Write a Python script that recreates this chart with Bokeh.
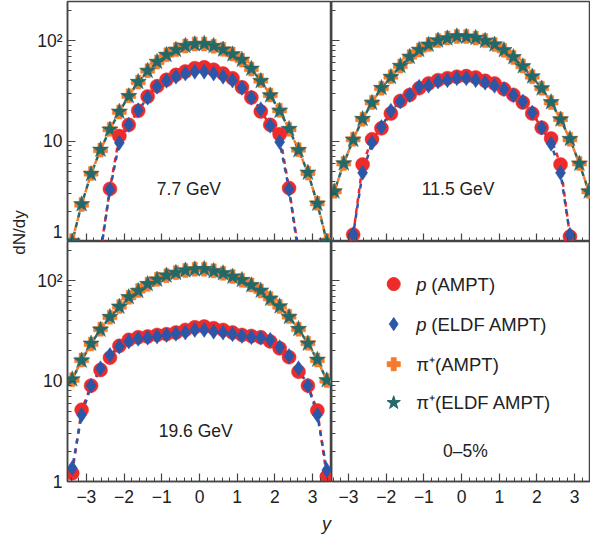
import math
from bokeh.plotting import figure
from bokeh.layouts import gridplot, row, column
from bokeh.models import Range1d, FixedTicker, SingleIntervalTicker, CustomJSTickFormatter, Label
from bokeh.embed import file_html
from bokeh.resources import INLINE

nan = float("nan")

rapidity = [-3.375, -3.125, -2.875, -2.625, -2.375, -2.125, -1.875, -1.625, -1.375, -1.125,
            -0.875, -0.625, -0.375, -0.125, 0.125, 0.375, 0.625, 0.875, 1.125, 1.375,
            1.625, 1.875, 2.125, 2.375, 2.625, 2.875, 3.125, 3.375]

# 7.7 GeV
p_ampt_77 = [nan, nan, nan, 0.8, 3.34, 11.2, 14.5, 20.0, 27.8, 35.2, 40.7, 45.6, 49.3, 53.2,
             54.2, 51.3, 47.0, 42.2, 34.3, 27.1, 19.7, 14.5, 11.7, 3.4, 0.8, nan, nan, nan]
p_eldf_77 = [nan, nan, nan, 0.75, 3.3, 9.6, 14.5, 20.3, 27.0, 34.7, 39.8, 43.7, 47.0, 49.0,
             49.0, 47.0, 43.7, 40.0, 33.8, 27.0, 20.7, 14.2, 9.8, 3.3, 0.75, nan, nan, nan]
pi_ampt_77 = [1.02, 2.33, 4.75, 8.13, 13.1, 19.5, 28.2, 38.6, 50.1, 61.2, 72.4, 81.3, 88.4, 92.6,
              92.6, 88.0, 82.0, 73.5, 64.0, 52.0, 40.0, 28.7, 20.2, 13.1, 8.2, 4.8, 2.4, 1.02]
pi_eldf_77 = [1.0, 2.35, 4.7, 8.2, 13.0, 19.6, 28.0, 38.8, 50.0, 61.5, 72.0, 81.0, 88.8, 92.0,
              93.0, 88.5, 81.5, 73.0, 64.5, 52.5, 39.6, 28.5, 20.0, 13.2, 8.1, 4.85, 2.38, 1.0]

# 11.5 GeV
p_ampt_115 = [nan, 0.5, 1.17, 5.84, 10.4, 13.4, 18.8, 25.1, 28.8, 33.6, 37.4, 40.4, 42.3, 43.7,
              44.3, 43.0, 39.8, 37.4, 32.9, 28.8, 24.2, 18.8, 13.6, 10.6, 5.84, 1.12, 0.5, nan]
p_eldf_115 = [nan, 0.5, 1.18, 4.83, 9.6, 13.8, 20.0, 24.7, 28.8, 34.7, 35.5, 39.2, 40.4, 42.3,
              42.3, 40.4, 38.1, 35.5, 32.9, 28.6, 24.7, 19.2, 13.6, 9.4, 4.83, 1.17, 0.5, nan]
pi_ampt_115 = [3.16, 5.98, 10.4, 16.5, 24.2, 33.6, 43.7, 55.8, 69.2, 80.7, 91.2, 100.0, 106.0, 110.0,
               110.0, 106.0, 100.0, 91.2, 80.0, 68.0, 55.8, 43.7, 33.6, 24.2, 16.5, 10.4, 5.98, 3.16]
pi_eldf_115 = [3.15, 6.0, 10.3, 16.6, 24.0, 33.8, 43.5, 56.0, 69.0, 81.0, 91.0, 100.5, 105.5, 110.5,
               109.5, 106.5, 99.5, 91.5, 80.5, 68.5, 55.5, 44.0, 33.4, 24.4, 16.4, 10.5, 5.95, 3.15]

# 19.6 GeV
p_ampt_196 = [1.21, 5.17, 9.0, 12.9, 17.1, 22.4, 25.7, 27.3, 27.8, 28.8, 29.3, 30.4, 32.3, 34.3,
              34.9, 33.6, 32.3, 30.4, 28.8, 28.1, 27.3, 24.8, 21.2, 17.3, 12.4, 9.0, 5.1, 1.12]
p_eldf_196 = [1.36, 4.6, 9.0, 13.4, 18.2, 22.0, 24.8, 26.3, 27.0, 27.8, 28.8, 29.5, 30.4, 32.3,
              32.3, 31.0, 30.4, 29.3, 28.1, 27.3, 27.0, 25.7, 21.7, 17.8, 13.4, 9.0, 4.6, 1.3]
pi_ampt_196 = [10.3, 16.2, 23.4, 32.8, 43.2, 55.1, 68.2, 79.5, 91.9, 103.0, 112.0, 120.0, 126.0, 130.0,
               130.0, 125.0, 118.0, 110.0, 101.0, 90.5, 79.0, 66.5, 55.1, 43.8, 32.8, 23.8, 16.2, 10.1]
pi_eldf_196 = [10.4, 16.0, 23.6, 32.5, 43.5, 55.0, 68.5, 79.0, 92.5, 102.5, 112.5, 119.5, 126.5, 129.5,
               130.5, 124.5, 118.5, 109.5, 101.5, 90.0, 79.5, 66.0, 55.5, 43.5, 33.0, 23.6, 16.3, 10.2]

energy_labels = ["7.7 GeV", "11.5 GeV", "19.6 GeV"]
y_major = [1, 10, 100]
y_minor = [2, 3, 4, 5, 6, 7, 8, 9, 20, 30, 40, 50, 60, 70, 80, 90, 200]
series_names = ["p (AMPT)", "p (ELDF AMPT)", "\u03c0\u207a(AMPT)", "\u03c0\u207a(ELDF AMPT)"]
centrality = "0\u20135%"

RED = "#EE2A2A"
BLUE = "#2A57A8"
ORANGE = "#F47B2C"
TEAL = "#22696A"
AXC = "#444444"
TXT = "#222222"
FONT = "Liberation Sans"

YMAX = 245.0

yfmt = CustomJSTickFormatter(code="if (Math.abs(tick - 100) < 1) { return '10\u00b2'; } return tick.toFixed(0);")
xfmt = CustomJSTickFormatter(code="return tick < 0 ? '\u2212' + (-tick).toFixed(0) : tick.toFixed(0);")


def make_panel(xr, fw, show_ylabels, show_xlabels, top, bottom, left):
    p = figure(frame_width=fw, frame_height=240, x_range=Range1d(*xr), y_range=Range1d(1, YMAX),
               y_axis_type="log", output_backend="svg", toolbar_location=None,
               min_border_left=left, min_border_right=0, min_border_top=top, min_border_bottom=bottom)
    p.grid.visible = False
    p.outline_line_color = AXC
    p.outline_line_width = 1.5
    p.background_fill_color = "white"
    p.border_fill_color = "white"
    for ax in (p.xaxis[0], p.yaxis[0]):
        ax.axis_line_color = AXC
        ax.axis_line_width = 1.5
        ax.major_tick_line_color = AXC
        ax.minor_tick_line_color = AXC
        ax.major_tick_line_width = 1.2
        ax.minor_tick_line_width = 1.0
        ax.major_tick_in = 8
        ax.major_tick_out = 0
        ax.minor_tick_in = 4
        ax.minor_tick_out = 0
        ax.major_label_text_font = FONT
        ax.major_label_text_font_size = "17.5px"
        ax.major_label_text_color = TXT
    p.yaxis[0].ticker = FixedTicker(ticks=y_major, minor_ticks=y_minor)
    p.yaxis[0].formatter = yfmt
    p.yaxis[0].major_label_standoff = 5
    p.xaxis[0].ticker = SingleIntervalTicker(interval=1, num_minor_ticks=5)
    p.xaxis[0].formatter = xfmt
    p.xaxis[0].major_label_standoff = 8
    if not show_ylabels:
        p.yaxis[0].major_label_text_color = None
        p.yaxis[0].major_label_standoff = 0
    if not show_xlabels:
        p.xaxis[0].major_label_text_color = None
        p.xaxis[0].major_label_standoff = 0
    return p


def add_data(p, pa, pe, pia, pie, label, lx, ly):
    p.line(rapidity, pia, line_color=ORANGE, line_width=2.5, line_dash="5 5")
    p.line(rapidity, pie, line_color=TEAL, line_width=2.5, line_dash="5 5", line_dash_offset=5)
    p.line(rapidity, pa, line_color=RED, line_width=2.5, line_dash="5 5")
    p.line(rapidity, pe, line_color=BLUE, line_width=2.5, line_dash="5 5", line_dash_offset=5)
    p.scatter(rapidity, pia, marker="plus", size=14, fill_color=ORANGE, line_color=ORANGE, line_width=0.5)
    p.scatter(rapidity, pie, marker="star", size=17, fill_color=TEAL, line_color=TEAL, line_width=0.5)
    p.scatter(rapidity, pa, marker="circle", size=14, fill_color=RED, line_color=RED, line_width=0.5)
    p.scatter(rapidity, pe, marker="diamond", size=15, fill_color=BLUE, line_color=BLUE, line_width=0.5)
    p.add_layout(Label(x=lx, y=ly, text=label, text_align="center", text_baseline="middle",
                       text_font=FONT, text_font_size="17.5px", text_color=TXT))


XL = (-3.5, 3.5)
XR = (-3.45, 3.42)

tl = make_panel(XL, 264, True, False, 1, 0, 37)
tr = make_panel(XR, 259, False, False, 1, 0, 0)
bl = make_panel(XL, 264, True, True, 0, 30, 37)
br = make_panel(XR, 259, False, True, 0, 30, 0)

add_data(tl, p_ampt_77, p_eldf_77, pi_ampt_77, pi_eldf_77, energy_labels[0], -0.28, 3.35)
add_data(tr, p_ampt_115, p_eldf_115, pi_ampt_115, pi_eldf_115, energy_labels[1], -0.09, 3.35)
add_data(bl, p_ampt_196, p_eldf_196, pi_ampt_196, pi_eldf_196, energy_labels[2], -0.1, 3.17)

# legend drawn in the empty panel
leg_y = [92.3, 36.9, 14.7, 6.08]
leg_markers = [("circle", RED, 13), ("diamond", BLUE, 13), ("plus", ORANGE, 13), ("star", TEAL, 14)]
for (mk, col, sz), yy in zip(leg_markers, leg_y):
    br.scatter([-1.8], [yy], marker=mk, size=sz, fill_color=col, line_color=col)
for i, yy in enumerate(leg_y):
    name = series_names[i]
    if name.startswith("p "):
        br.add_layout(Label(x=-1.2, y=yy, text="p", text_baseline="middle", text_font=FONT,
                            text_font_size="18.5px", text_font_style="italic", text_color=TXT))
        br.add_layout(Label(x=-1.2, y=yy, x_offset=15, text=name[2:], text_baseline="middle",
                            text_font=FONT, text_font_size="18.5px", text_color=TXT))
    else:
        br.add_layout(Label(x=-1.2, y=yy, text=name, text_baseline="middle", text_font=FONT,
                            text_font_size="18.5px", text_color=TXT))
br.add_layout(Label(x=0.1, y=2.0, text=centrality, text_align="center", text_baseline="middle",
                    text_font=FONT, text_font_size="17.5px", text_color=TXT))

# y-axis title in a narrow strip on the left
ylab = figure(width=30, height=511, x_range=Range1d(0, 30), y_range=Range1d(0, 511),
              output_backend="svg", toolbar_location=None,
              min_border_left=0, min_border_right=0, min_border_top=0, min_border_bottom=0)
ylab.axis.visible = False
ylab.grid.visible = False
ylab.outline_line_color = None
ylab.add_layout(Label(x=19, y=279, text="dN/dy", angle=math.pi / 2, text_align="center",
                      text_baseline="middle", text_font=FONT, text_font_size="17px", text_color=TXT))

# x-axis title in a strip at the bottom
xlab = figure(width=590, height=24, x_range=Range1d(0, 590), y_range=Range1d(0, 24),
              output_backend="svg", toolbar_location=None,
              min_border_left=0, min_border_right=0, min_border_top=0, min_border_bottom=0)
xlab.axis.visible = False
xlab.grid.visible = False
xlab.outline_line_color = None
xlab.add_layout(Label(x=326, y=12, text="y", text_align="center", text_baseline="middle",
                      text_font=FONT, text_font_size="18px", text_font_style="italic", text_color=TXT))

grid = gridplot([[tl, tr], [bl, br]], toolbar_location=None)
layout = column(row(ylab, grid), xlab)

open("out.html", "w").write(file_html(layout, INLINE))
